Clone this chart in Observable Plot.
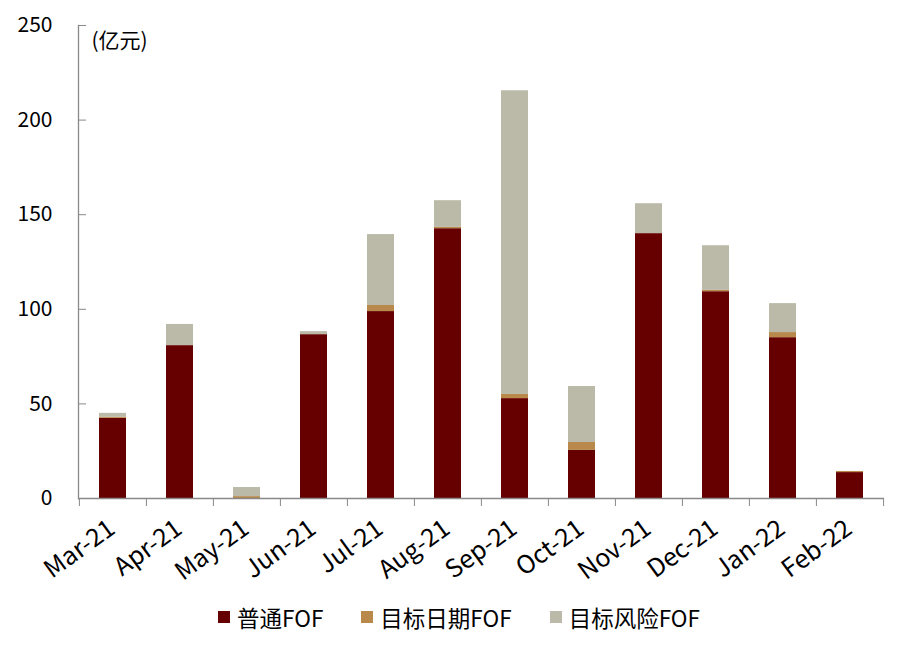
<!DOCTYPE html>
<html>
<head>
<meta charset="utf-8">
<script src="https://cdn.jsdelivr.net/npm/d3@7"></script>
<script src="https://cdn.jsdelivr.net/npm/@observablehq/plot@0.6"></script>
<style>
  body { margin: 0; background: #fff; width: 905px; height: 651px; overflow: hidden; }
  #legend { display: flex; justify-content: center; align-items: center; height: 30px; margin-top: 12px; padding-left: 13px;
            font-family: "Noto Sans CJK SC", sans-serif; font-size: 22.5px; color: #000; }
  .item { display: flex; align-items: center; margin: 0 19px; }
  .sw { width: 12px; height: 12px; margin-right: 7px; }
</style>
</head>
<body>
<div id="chart"></div>
<div id="legend"></div>
<script>
const months = ["Mar-21","Apr-21","May-21","Jun-21","Jul-21","Aug-21","Sep-21","Oct-21","Nov-21","Dec-21","Jan-22","Feb-22"];
const seriesNames = ["普通FOF","目标日期FOF","目标风险FOF"];
const putong   = [42.4, 80.8, 0,   86.6, 98.8, 142.6, 52.8, 25.4, 140.0, 109.3, 85.0, 13.7];
const riqi     = [0.5,  0,    1.0, 0,    3.2,  0.7,   2.2,  4.2,  0,     0.7,   2.7,  0.6];
const fengxian = [2.1,  11.2, 4.8, 1.6,  37.5, 14.1,  160.5, 29.6, 15.8, 23.6,  15.3, 0];
const colors = ["#660000","#B8894A","#BBB9A8"];
const yTicks = [0, 50, 100, 150, 200, 250];

const seriesValues = [putong, riqi, fengxian];
const data = months.flatMap((m, i) => seriesNames.map((s, j) => ({month: m, type: s, value: seriesValues[j][i]})));

const W = 905, H = 590, mL = 78, mR = 21, mT = 25, mB = 92;
const step = (W - mL - mR) / months.length;

const chart = Plot.plot({
  width: W, height: H,
  marginTop: mT, marginBottom: mB, marginLeft: mL, marginRight: mR,
  style: {fontFamily: "'Noto Sans CJK SC', sans-serif", fontSize: "21px", color: "#000", background: "#fff"},
  x: {domain: months, paddingInner: 0.6, paddingOuter: 0.3, label: null},
  y: {domain: [0, 250], label: null},
  color: {domain: seriesNames, range: colors},
  marks: [
    Plot.barY(data, {x: "month", y: "value", fill: "type"}),
    Plot.frame({anchor: "left", stroke: "#898989", strokeWidth: 1.3}),
    Plot.ruleY([0], {stroke: "#898989", strokeWidth: 1.5}),
    Plot.axisY({ticks: yTicks, tickSize: -8, tickPadding: 34, stroke: "#898989", fill: "#000", tickFormat: d => String(d)}),
    Plot.axisX({tickSize: 0, tickRotate: -36, tickPadding: 27, dx: -1, fontSize: 25, fill: "#000"}),
    Plot.axisX({tickSize: 8, tickFormat: () => "", dx: -step / 2, stroke: "#898989"}),
    Plot.axisX({ticks: [months[months.length - 1]], tickSize: 8, tickFormat: () => "", dx: step / 2, stroke: "#898989"}),
    Plot.text(["(亿元)"], {frameAnchor: "top-left", dx: 13, dy: 16, lineAnchor: "middle", textAnchor: "start", fill: "#000"})
  ]
});
document.getElementById("chart").appendChild(chart);

const legend = document.getElementById("legend");
seriesNames.forEach((s, i) => {
  const it = document.createElement("div");
  it.className = "item";
  const sw = document.createElement("div");
  sw.className = "sw";
  sw.style.background = colors[i];
  const t = document.createElement("span");
  t.textContent = s;
  it.appendChild(sw); it.appendChild(t);
  legend.appendChild(it);
});
</script>
</body>
</html>
